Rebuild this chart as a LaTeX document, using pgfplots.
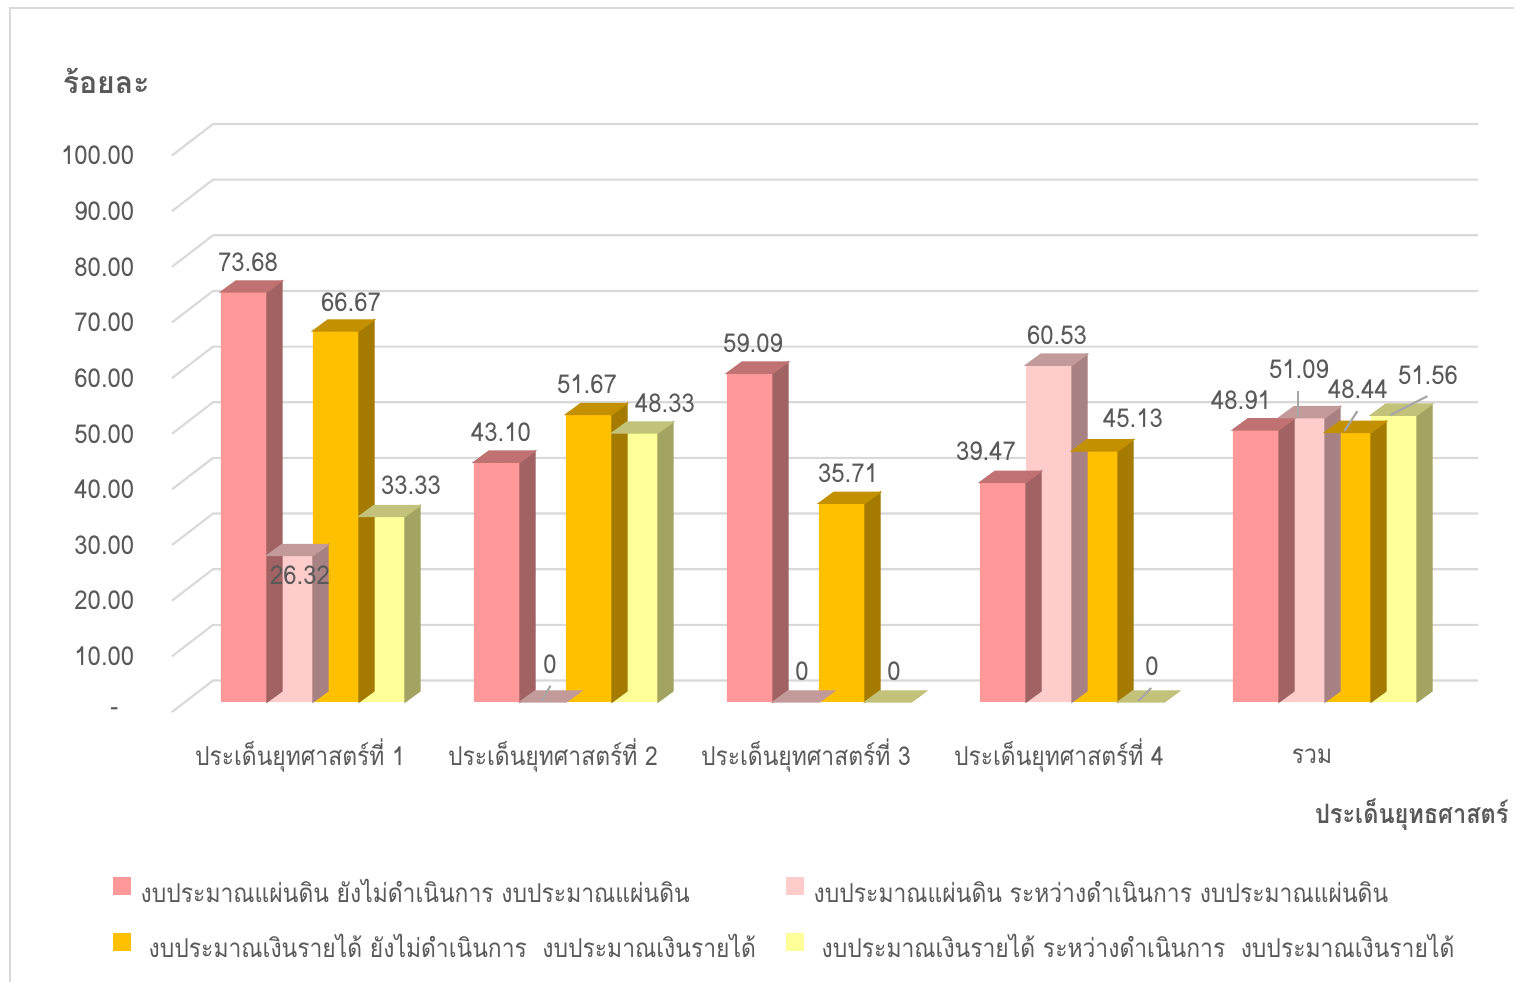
\documentclass[border=0pt]{standalone}
\usepackage{pgfplots}
\pgfplotsset{compat=1.18}
\usepackage{pgfplotstable}
\usepackage{fontspec}
\setmainfont{Loma}[Script=Thai, FakeStretch=0.88]
\newfontfamily\numf{Loma}[FakeStretch=0.92]
\newfontfamily\titf{Loma}[Script=Thai]
\definecolor{txt}{HTML}{595959}
\definecolor{gridc}{HTML}{D9D9D9}
\definecolor{lead}{HTML}{A6A6A6}
\definecolor{aF}{HTML}{FF9999}\definecolor{aS}{HTML}{A06262}\definecolor{aT}{HTML}{C07272}
\definecolor{bF}{HTML}{FFCCCC}\definecolor{bS}{HTML}{A88282}\definecolor{bT}{HTML}{C29A9A}
\definecolor{cF}{HTML}{FFC000}\definecolor{cS}{HTML}{A47A00}\definecolor{cT}{HTML}{C29000}
\definecolor{dF}{HTML}{FFFF99}\definecolor{dS}{HTML}{A4A462}\definecolor{dT}{HTML}{C2C27A}
\newcommand\lab{\fontsize{7.4}{9}\selectfont}
\newcommand\numl{\fontsize{7.4}{9}\selectfont\numf}
\newcommand\px[2]{({(#1-186.5)*0.01},{(702-#2)*0.01})}

\pgfplotstableread{
x y lab dx dy
0 73.68 73.68 4 30
1 43.10 43.10 4 30
2 59.09 59.09 3 30
3 39.47 39.47 -17 31
4 48.91 48.91 -15 30
}\tA
\pgfplotstableread{
x y lab dx dy
0 26.32 26.32 10 -20
1 0 0 7 38
2 0 0 6 31
3 60.53 60.53 8 30
4 51.09 51.09 -3 48
}\tB
\pgfplotstableread{
x y lab dx dy
0 66.67 66.67 15 29
1 51.67 51.67 -2 30
2 35.71 35.71 6 30
3 45.13 45.13 38 33
4 48.44 48.44 10 43
}\tC
\pgfplotstableread{
x y lab dx dy
0 33.33 33.33 29 31
1 48.33 48.33 30 30
2 0 0 6 31
3 0 0 11 36
4 51.56 51.56 34 40
}\tD

\pgfplotsset{
  front/.style={ybar, bar width=0.46cm, bar shift=#1, draw=none},
  face/.style n args={3}{forget plot, only marks, mark=*, mark size=0pt,
    mark options={draw=none, fill=none},
    scatter, point meta=y,
    visualization depends on={\thisrow{y} \as \val},
    scatter/@pre marker code/.code={%
      \pgfmathsetmacro\h{\val*0.05565}%
      \fill[#1] (0.23cm,0cm) -- (0.38cm,0.11cm) -- (0.38cm,{0.11cm-\h cm}) -- (0.23cm,{-\h cm}) -- cycle;
      \fill[#2] (-0.23cm,0cm) -- (0.23cm,0cm) -- (0.38cm,0.11cm) -- (-0.08cm,0.11cm) -- cycle;
    },
    scatter/@post marker code/.code={}},
  labs/.style={forget plot, only marks, mark=*, mark size=0pt,
    mark options={draw=none, fill=none},
    point meta=explicit symbolic,
    visualization depends on={\thisrow{dx} \as \dx},
    visualization depends on={\thisrow{dy} \as \dy},
    nodes near coords,
    nodes near coords style={anchor=center, inner sep=0pt, xshift=\dx*0.01cm, yshift=\dy*0.01cm, text=txt, font=\numl}},
}

\begin{document}
\begin{tikzpicture}
\useasboundingbox (-1.865,-2.80) rectangle (13.285,7.02);
\draw[gridc, line width=0.6pt] \px{10}{982} -- \px{10}{8} -- \px{1515}{8};
\begin{axis}[
  at={(0,0)}, anchor=south west, scale only axis,
  x=2.53cm, y=0.05565cm,
  xmin=-0.5, xmax=4.5, ymin=0, ymax=100,
  clip=false,
  axis line style={draw=none}, tick style={draw=none}, major tick length=0pt,
  xtick={0,1,2,3,4},
  xticklabels={ประเด็นยุทศาสตร์ที่ 1, ประเด็นยุทศาสตร์ที่ 2, ประเด็นยุทศาสตร์ที่ 3, ประเด็นยุทศาสตร์ที่ 4, รวม},
  xticklabel style={anchor=center, inner sep=0pt, yshift=-0.54cm, xshift=-0.13cm, text=txt, font=\lab},
  ytick={0,10,...,100},
  yticklabels={{-\hspace*{0.16cm}},10.00,20.00,30.00,40.00,50.00,60.00,70.00,80.00,90.00,100.00},
  yticklabel style={anchor=east, inner sep=0pt, xshift=-0.515cm, yshift=-0.10cm, text=txt, font=\numl},
  legend columns=2,
  legend cell align=left,
  legend style={at={(-0.0589,-0.292)}, anchor=north west, draw=none, fill=none, inner sep=0pt,
    font=\lab, text=txt, nodes={inner sep=0pt}, row sep=0.13cm,
    /tikz/every odd column/.append style={column sep=0.1cm}},
  legend image code/.code={\fill[#1] (0cm,-0.09cm) rectangle (0.18cm,0.09cm);},
]
\pgfplotsinvokeforeach{0,10,...,100}{
  \draw[gridc, line width=0.6pt] ([shift={(-0.145cm,-0.10cm)}]axis cs:-0.5,#1) -- ([shift={(0.265cm,0.215cm)}]axis cs:-0.5,#1) -- ([shift={(0.265cm,0.215cm)}]axis cs:4.5,#1);
}
\addplot[front=-0.69cm, fill=aF] table[x=x,y=y]{\tA};
\addlegendentry{\makebox[6.45cm][l]{\rule[-0.2cm]{0pt}{0.57cm}งบประมาณแผ่นดิน ยังไม่ดำเนินการ งบประมาณแผ่นดิน}}
\addplot[face={aS}{aT}{}] table[x expr=\thisrow{x}-0.272727, y=y]{\tA};
\addplot[front=-0.23cm, fill=bF] table[x=x,y=y]{\tB};
\addlegendentry{\rule[-0.2cm]{0pt}{0.57cm}งบประมาณแผ่นดิน ระหว่างดำเนินการ งบประมาณแผ่นดิน}
\addplot[face={bS}{bT}{}] table[x expr=\thisrow{x}-0.090909, y=y]{\tB};
\addplot[front=0.23cm, fill=cF] table[x=x,y=y]{\tC};
\addlegendentry{\makebox[6.45cm][l]{\rule[-0.2cm]{0pt}{0.57cm}\hspace*{0.08cm}งบประมาณเงินรายได้ ยังไม่ดำเนินการ \ งบประมาณเงินรายได้}}
\addplot[face={cS}{cT}{}] table[x expr=\thisrow{x}+0.090909, y=y]{\tC};
\addplot[front=0.69cm, fill=dF] table[x=x,y=y]{\tD};
\addlegendentry{\rule[-0.2cm]{0pt}{0.57cm}\hspace*{0.08cm}งบประมาณเงินรายได้ ระหว่างดำเนินการ \ งบประมาณเงินรายได้}
\addplot[face={dS}{dT}{}] table[x expr=\thisrow{x}+0.272727, y=y]{\tD};
\addplot[labs] table[x expr=\thisrow{x}-0.272727, y=y, meta=lab]{\tA};
\addplot[labs] table[x expr=\thisrow{x}-0.090909, y=y, meta=lab]{\tB};
\addplot[labs] table[x expr=\thisrow{x}+0.090909, y=y, meta=lab]{\tC};
\addplot[labs] table[x expr=\thisrow{x}+0.272727, y=y, meta=lab]{\tD};
\end{axis}
\draw[lead, line width=0.6pt] \px{550.7}{685.7} -- \px{541.7}{701};
\draw[lead, line width=0.6pt] \px{1151.7}{688} -- \px{1139}{701};
\draw[lead, line width=0.6pt] \px{1299}{391} -- \px{1299}{417};
\draw[lead, line width=0.6pt] \px{1358}{411} -- \px{1345}{431};
\draw[lead, line width=0.6pt] \px{1428}{396} -- \px{1391}{415};
\node[anchor=west, inner sep=0pt, text=txt, font=\fontsize{8.6}{10}\selectfont\titf\bfseries] at \px{62}{81} {ร้อยละ};
\node[anchor=east, inner sep=0pt, text=txt, font=\fontsize{7.6}{10}\selectfont\bfseries] at \px{1510}{815} {ประเด็นยุทธศาสตร์};
\end{tikzpicture}
\end{document}
